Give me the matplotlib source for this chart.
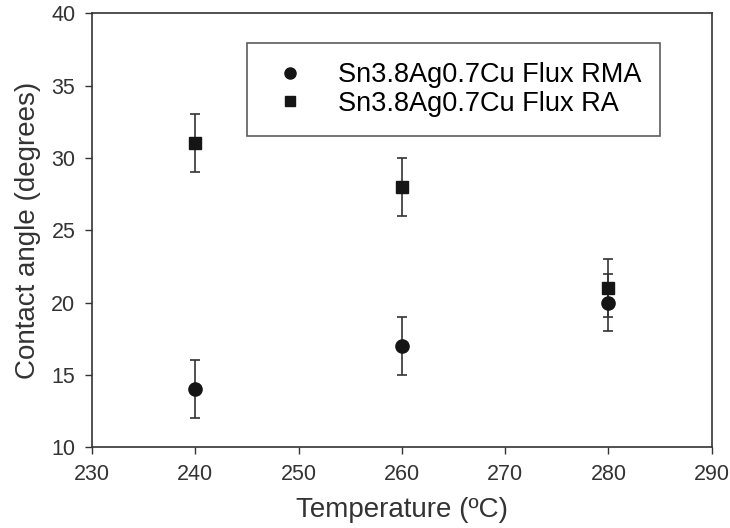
#!/usr/bin/env python3

import matplotlib.pyplot as plt
from matplotlib.lines import Line2D

plt.rcParams['font.family'] = ['Liberation Sans', 'DejaVu Sans']

temp = [240, 260, 280]
rma = [14, 17, 20]
rma_err = [2, 2, 2]
ra = [31, 28, 21]
ra_err = [2, 2, 2]
labels = ['Sn3.8Ag0.7Cu Flux RMA', 'Sn3.8Ag0.7Cu Flux RA']

fig = plt.figure(figsize=(7.3, 5.28), dpi=100)
ax = fig.add_axes([0.126, 0.153, 0.849, 0.822])

ax.errorbar(temp, rma, yerr=rma_err, fmt='o', color='#151515', ms=9.5,
            ecolor='#333333', elinewidth=1.2, capsize=3.3, capthick=1.2)
ax.errorbar(temp, ra, yerr=ra_err, fmt='s', color='#151515', ms=9,
            ecolor='#333333', elinewidth=1.2, capsize=3.3, capthick=1.2)

ax.set_xlim(230, 290)
ax.set_ylim(10, 40)
ax.set_xticks(range(230, 291, 10))
ax.set_yticks(range(10, 41, 5))
ax.tick_params(direction='out', length=5, width=1, labelsize=15.5, pad=7,
               colors='#333333', labelcolor='#333333')
for s in ax.spines.values():
    s.set_color('#333333')
    s.set_linewidth(1.2)

ax.set_xlabel('Temperature (ºC)', fontsize=20, color='#333333', labelpad=9)
ax.set_ylabel('Contact angle (degrees)', fontsize=20, color='#333333', labelpad=7)

handles = [Line2D([], [], ls='none', marker='o', ms=8, color='#151515'),
           Line2D([], [], ls='none', marker='s', ms=7.5, color='#151515')]
leg = ax.legend(handles, labels, loc='upper left', bbox_to_anchor=(0.25, 0.931),
                fontsize=19.5, frameon=True, fancybox=False, edgecolor='#333333',
                handletextpad=0.85, borderpad=0.7, labelspacing=0.1,
                handlelength=1.8, borderaxespad=0)
leg.get_frame().set_linewidth(1.2)

plt.savefig('out.png', dpi=100)
